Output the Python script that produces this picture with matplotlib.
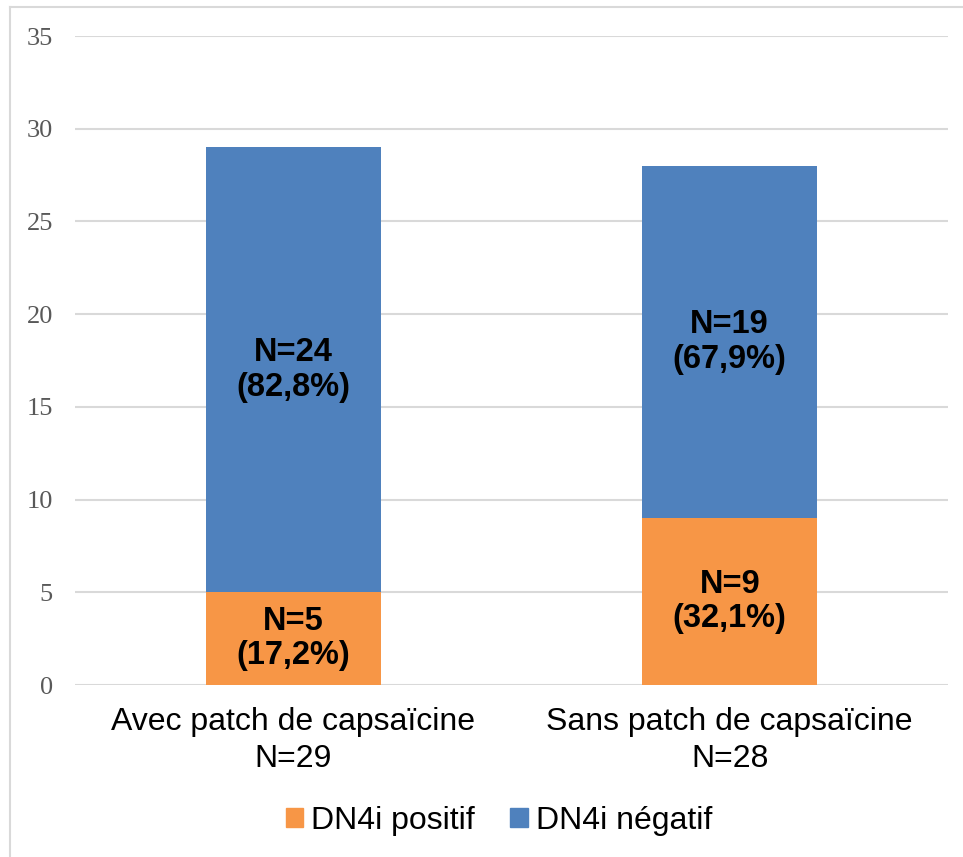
import numpy as np
import matplotlib.pyplot as plt
from matplotlib.patches import Patch
from matplotlib.lines import Line2D

groups = ["Avec patch de capsaïcine\nN=29", "Sans patch de capsaïcine\nN=28"]
positif = [5, 9]
negatif = [24, 19]
pct_positif = ["17,2%", "32,1%"]
pct_negatif = ["82,8%", "67,9%"]
yticks = [0, 5, 10, 15, 20, 25, 30, 35]

orange = "#F79646"
blue = "#4F81BD"
grid_col = "#D9D9D9"

fig = plt.figure(figsize=(9.63, 8.57), dpi=100)
ax = fig.add_axes([75 / 963, 1 - 685 / 857, 873 / 963, 649 / 857])

x = np.arange(len(groups))
ax.bar(x, positif, width=0.4, color=orange, zorder=2)
ax.bar(x, negatif, width=0.4, bottom=positif, color=blue, zorder=2)

for i in range(len(groups)):
    ax.text(x[i], positif[i] / 2, "N=%d\n(%s)" % (positif[i], pct_positif[i]),
            ha="center", va="center", fontsize=23.5, fontweight="bold",
            family="Liberation Sans", linespacing=1.15, zorder=3)
    ax.text(x[i], positif[i] + negatif[i] / 2, "N=%d\n(%s)" % (negatif[i], pct_negatif[i]),
            ha="center", va="center", fontsize=23.5, fontweight="bold",
            family="Liberation Sans", linespacing=1.15, zorder=3)

ax.set_xlim(-0.5, 1.5)
ax.set_ylim(0, 35)
ax.set_yticks(yticks)
ax.set_yticklabels([str(t) for t in yticks], family="Liberation Serif",
                   fontsize=19, color="#595959")
ax.set_xticks(x)
ax.set_xticklabels(groups, family="Liberation Sans", fontsize=23, linespacing=1.3)
ax.tick_params(axis="y", length=0, pad=16)
ax.tick_params(axis="x", length=0, pad=16)
ax.grid(axis="y", color=grid_col, linewidth=1.5, zorder=0)
for s in ax.spines.values():
    s.set_visible(False)

handles = [Patch(color=orange, label="DN4i positif"),
           Patch(color=blue, label="DN4i négatif")]
fig.legend(handles=handles, loc="center", bbox_to_anchor=(499 / 963, 1 - 821 / 857),
           ncol=2, frameon=False, prop={"family": "Liberation Sans", "size": 23},
           handlelength=0.55, handleheight=0.55, handletextpad=0.25, columnspacing=1.1)

# chart frame
fig.add_artist(Line2D([10 / 963, 10 / 963], [0, 1 - 7 / 857], color=grid_col, linewidth=1.5))
fig.add_artist(Line2D([10 / 963, 1], [1 - 7 / 857, 1 - 7 / 857], color=grid_col, linewidth=1.5))

fig.savefig("out.png", dpi=100)
